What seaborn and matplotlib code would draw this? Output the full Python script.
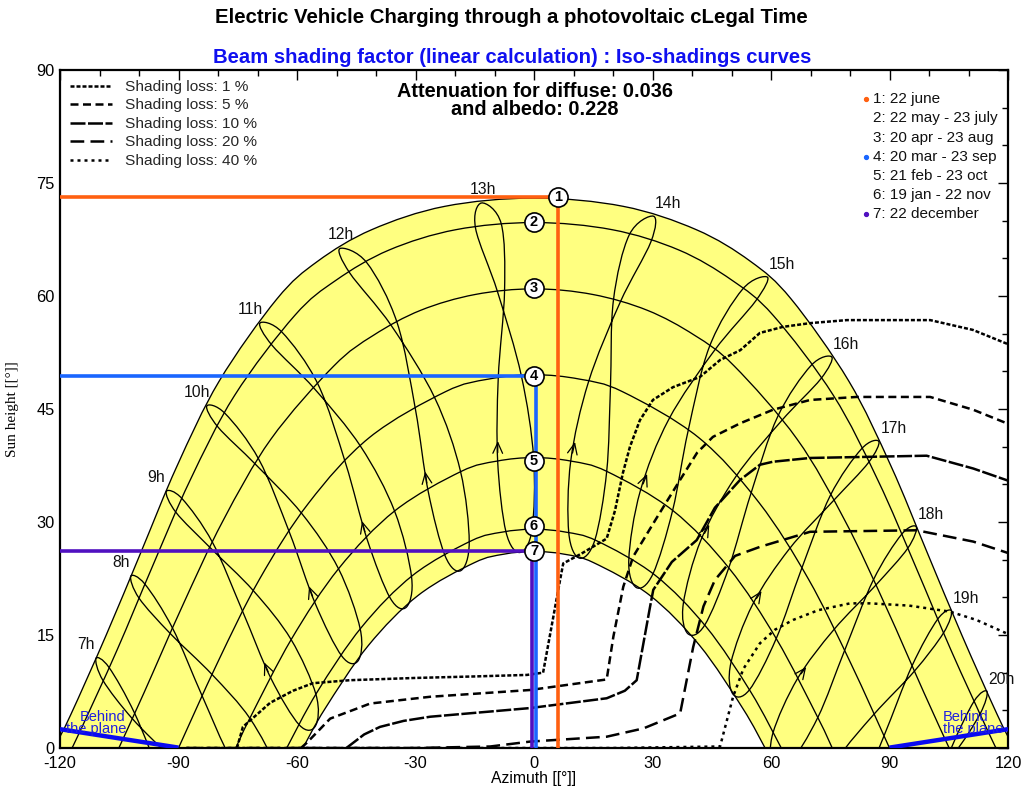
import matplotlib
matplotlib.use("Agg")
import matplotlib.pyplot as plt
from matplotlib.lines import Line2D
from matplotlib.path import Path
from matplotlib.patches import PathPatch
import numpy as np
import pandas as pd
import seaborn as sns

sns.set_theme(style="white")
plt.rcParams["font.family"] = ["Liberation Sans", "DejaVu Sans"]
plt.rcParams["axes.unicode_minus"] = False

# ---------------------------------------------------------------- data
# Sun paths of the seven reference days, from solar noon to sunset
# (azimuth [deg], sun height [deg]); the morning half is the mirror image.
path_ids = [1, 2, 3, 4, 5, 6, 7]
path_az = [
    [0, 22.6, 41.1, 54.8, 65.1, 79.7, 90.4, 99.5, 108.3, 117.3, 121.5],
    [0, 19.8, 36.7, 50.1, 60.6, 75.8, 87.1, 96.6, 105.6, 114.9, 117.0],
    [0, 14.9, 28.7, 40.6, 50.7, 66.6, 78.8, 89.1, 98.7, 105.1],
    [0, 11.5, 22.4, 41.7, 57.0, 69.5, 80.1, 90.0],
    [0, 9.4, 18.5, 35.2, 49.4, 61.4, 71.9, 75.5],
    [0, 8.0, 15.9, 30.6, 43.6, 54.9, 62.6],
    [0, 7.6, 15.1, 29.3, 41.9, 52.9, 58.5],
]
path_h = [
    [73.0, 71.9, 68.8, 64.6, 59.6, 48.7, 37.4, 26.0, 15.0, 4.4, 0.0],
    [69.75, 68.8, 66.1, 62.1, 57.4, 46.8, 35.5, 24.1, 12.95, 2.25, 0.0],
    [60.95, 60.2, 58.1, 54.8, 50.7, 41.0, 30.1, 18.75, 7.37, 0.0],
    [49.55, 48.97, 47.3, 41.2, 32.55, 22.4, 11.35, 0.0],
    [38.55, 38.08, 36.7, 31.5, 23.85, 14.46, 3.99, 0.0],
    [29.05, 28.66, 27.5, 22.96, 16.07, 7.42, 0.0],
    [26.1, 25.73, 24.6, 20.27, 13.63, 5.22, 0.0],
]

# Hour analemmas (legal time); points in the order
# Jun, Jul, Aug, Sep, Oct, Nov, Dec, Jan, Feb, Mar, Apr, May
hour_labels = [7, 8, 9, 10, 11, 12, 13, 14, 15, 16, 17, 18, 19, 20]
hour_az = [
    [-110.9, -109.1, -101.7, -91.4, -81.7, -74.4, -73.8, -78.1, -86.4, -93.9, -101.1, -107.6],
    [-102.1, -100.0, -92.1, -81.5, -71.95, -65.2, -64.9, -69.0, -76.75, -84.0, -91.5, -98.5],
    [-93.1, -90.6, -82.0, -71.0, -61.5, -55.2, -55.3, -59.4, -66.6, -73.7, -81.4, -89.1],
    [-82.85, -80.0, -70.4, -58.75, -49.5, -44.0, -44.5, -48.65, -55.4, -61.9, -69.65, -78.2],
    [-69.4, -66.3, -55.6, -43.85, -35.3, -31.0, -32.3, -36.4, -42.25, -47.7, -54.7, -63.8],
    [-49.15, -46.7, -36.1, -25.1, -18.6, -16.4, -18.5, -22.5, -26.8, -30.0, -34.65, -42.3],
    [-13.3, -14.8, -9.2, -3.2, -0.1, -0.5, -3.6, -7.1, -9.2, -9.05, -7.45, -8.3],
    [30.25, 24.1, 20.1, 19.35, 18.4, 15.4, 11.5, 8.8, 9.3, 13.8, 21.8, 29.6],
    [59.1, 52.8, 44.4, 39.0, 35.1, 30.1, 25.9, 24.0, 26.9, 34.1, 45.65, 56.2],
    [75.4, 70.1, 61.7, 54.9, 49.3, 43.2, 38.9, 37.8, 42.3, 51.0, 62.6, 72.6],
    [87.3, 82.9, 75.0, 67.75, 61.3, 54.5, 50.3, 49.85, 55.4, 64.6, 75.75, 84.7],
    [96.8, 93.05, 85.9, 78.6, 71.85, 64.6, 60.45, 60.5, 66.7, 75.9, 86.5, 94.6],
    [105.7, 102.2, 95.7, 88.6, 81.55, 73.8, 69.5, 70.0, 76.8, 86.1, 96.3, 103.7],
    [114.7, 111.4, 105.4, 98.5, 91.1, 82.8, 78.4, 79.1, 86.4, 96.0, 106.0, 112.9],
]
hour_h = [
    [11.9, 8.95, 3.9, -1.6, -7.2, -13.5, -17.6, -18.1, -12.8, -4.5, 4.6, 10.7],
    [22.8, 19.9, 15.2, 9.75, 3.95, -2.8, -6.95, -7.2, -1.45, 6.9, 15.9, 21.75],
    [34.05, 31.25, 26.6, 20.85, 14.4, 7.1, 2.95, 3.05, 9.25, 18.05, 27.3, 33.1],
    [45.4, 42.6, 37.6, 31.1, 23.8, 15.8, 11.6, 12.2, 19.2, 28.6, 38.3, 44.4],
    [56.4, 53.45, 47.7, 40.0, 31.45, 22.7, 18.7, 19.9, 27.7, 37.8, 48.3, 55.2],
    [66.3, 63.1, 56.05, 46.45, 36.7, 27.35, 23.55, 25.5, 34.1, 44.9, 56.45, 64.4],
    [72.35, 69.0, 60.5, 49.4, 38.55, 29.0, 25.95, 28.7, 38.1, 49.1, 60.75, 69.6],
    [70.6, 68.1, 59.4, 47.8, 36.7, 27.6, 25.2, 28.6, 38.1, 48.6, 59.15, 67.2],
    [62.5, 60.9, 53.25, 42.05, 31.55, 23.1, 21.3, 25.0, 34.1, 43.6, 52.75, 59.4],
    [51.9, 50.75, 44.0, 33.75, 23.9, 16.3, 15.2, 19.15, 27.65, 35.95, 43.4, 49.0],
    [40.7, 39.7, 33.5, 23.8, 14.5, 7.7, 7.2, 11.3, 19.1, 26.4, 32.8, 37.9],
    [29.35, 28.35, 22.3, 12.9, 4.05, -2.1, -2.05, 2.0, 9.2, 15.7, 21.6, 26.5],
    [18.2, 17.1, 10.9, 1.6, -7.0, -12.75, -12.5, -8.3, -1.5, 4.5, 10.2, 15.3],
    [7.5, 6.2, -0.3, -9.8, -18.4, -23.9, -23.4, -19.0, -12.8, -6.9, -1.0, 4.5],
]

# Iso-shading curves
iso_levels = ["1 %", "5 %", "10 %", "20 %", "40 %"]
iso_az = [
    [-75.2, -73.7, -66.8, -61.0, -56.0, -46.6, -30.0, -15.0, -1.8, 2.3, 6.6, 7.4, 12.0, 18.4,
     20.5, 22.5, 24.3, 26.8, 30.1, 35.2, 42.0, 47.1, 52.2, 57.2, 63.0, 69.9, 79.2, 100.3,
     111.1, 120.5],
    [-59.0, -57.5, -51.6, -44.0, -41.5, -26.3, -1.0, 18.4, 20.1, 22.6, 25.1, 31.0, 37.0,
     41.3, 45.3, 52.2, 60.5, 69.9, 81.7, 100.3, 111.2, 119.7],
    [-47.5, -43.0, -39.0, -33.0, -26.3, -1.0, 18.4, 23.0, 26.0, 29.4, 30.2, 34.9, 41.2,
     45.8, 52.2, 57.2, 60.5, 69.9, 99.4, 111.2, 120.5],
    [-88.0, -30.0, -11.1, -1.0, 18.4, 27.7, 37.0, 40.3, 42.9, 45.8, 50.9, 57.2, 69.9,
     96.9, 111.2, 120.5],
    [-88.0, 20.0, 47.1, 50.4, 53.0, 57.2, 61.0, 65.6, 72.0, 80.0, 85.1, 95.0, 105.3,
     112.0, 119.7],
]
iso_h = [
    [0.0, 2.8, 6.0, 7.6, 8.6, 9.0, 9.3, 9.5, 9.7, 10.0, 22.3, 24.5, 25.8, 27.8,
     31.5, 36.5, 40.0, 43.5, 46.2, 47.9, 49.25, 51.5, 52.8, 55.1, 55.9, 56.4, 56.8, 56.8,
     55.5, 53.5],
    [0.0, 0.7, 3.9, 5.4, 5.9, 6.8, 7.7, 9.1, 14.8, 21.4, 25.4, 30.5, 35.6,
     39.2, 41.3, 43.1, 44.9, 46.2, 46.6, 46.6, 44.9, 43.1],
    [0.0, 1.8, 2.8, 3.6, 4.15, 5.3, 6.6, 7.6, 9.0, 18.8, 21.0, 24.7, 27.6,
     31.9, 35.6, 37.6, 38.0, 38.5, 38.8, 37.1, 35.4],
    [0.0, 0.0, 0.2, 0.85, 1.5, 2.6, 4.6, 13.4, 18.8, 22.3, 25.5, 26.7, 28.7,
     28.9, 27.4, 25.8],
    [0.0, 0.0, 0.2, 6.8, 10.5, 13.9, 15.7, 17.0, 18.3, 19.2, 19.2, 18.9, 18.1,
     17.0, 15.2],
]

# Day markers (position of the numbered labels) and the highlighted days
marker_az = [6.1, 0, 0, 0, 0, 0, 0]
marker_h = [73.1, 69.8, 61.1, 49.4, 38.1, 29.5, 26.2]
day_names = ["22 june", "22 may - 23 july", "20 apr - 23 aug", "20 mar - 23 sep",
             "21 feb - 23 oct", "19 jan - 22 nov", "22 december"]
highlight_ids = [1, 4, 7]
highlight_colors = ["#FF6010", "#1A66FF", "#5010C0"]
highlight_drop_az = [6.1, 0.5, -0.6]

behind_left_az, behind_left_h = [-120, -90], [2.5, 0.05]
behind_right_az, behind_right_h = [90, 120], [0.05, 2.5]


# ---------------------------------------------------------------- helpers
def full_path(az, h):
    return [-a for a in reversed(az[1:])] + list(az), list(reversed(h[1:])) + list(h)


def smooth_segments(xs, ys, closed=False):
    """Cubic Bezier (Catmull-Rom) vertices/codes passing through the given points."""
    pts = np.column_stack([xs, ys]).astype(float)
    n = len(pts)
    verts, codes = [pts[0]], [Path.MOVETO]
    nseg = n if closed else n - 1
    for i in range(nseg):
        p1 = pts[i]
        p2 = pts[(i + 1) % n]
        if closed:
            p0 = pts[(i - 1) % n]
            p3 = pts[(i + 2) % n]
        else:
            p0 = pts[i - 1] if i > 0 else p1
            p3 = pts[i + 2] if i + 2 < n else p2
        verts += [p1 + (p2 - p0) / 6.0, p2 - (p3 - p1) / 6.0, p2]
        codes += [Path.CURVE4] * 3
    return verts, codes


def smooth_line(ax, xs, ys, closed=False, **kw):
    verts, codes = smooth_segments(xs, ys, closed)
    ax.add_patch(PathPatch(Path(verts, codes), fill=False, **kw))


# ---------------------------------------------------------------- figure
fig = plt.figure(figsize=(10.21, 7.92), dpi=100)
ax = fig.add_axes([60 / 1021, 44 / 792, 948 / 1021, 678 / 792])

full_paths = [full_path(az, h) for az, h in zip(path_az, path_h)]

# yellow band between the 22 june and 22 december paths
(a1, h1), (a7, h7) = full_paths[0], full_paths[-1]
v1, c1 = smooth_segments(a1, h1)
v7, c7 = smooth_segments(a7[::-1], h7[::-1])
band = Path(v1 + v7 + [v1[0]], c1 + [Path.LINETO] + c7[1:] + [Path.CLOSEPOLY])
ax.add_patch(PathPatch(band, facecolor="#FFFF80", edgecolor="none", zorder=1))

for fa, fh in full_paths:
    smooth_line(ax, fa, fh, edgecolor="black", lw=0.95, zorder=2)
for az, h in zip(hour_az, hour_h):
    smooth_line(ax, az, h, closed=True, edgecolor="black", lw=0.95, zorder=2)

# iso-shading curves
iso_rows = []
for lev, az, h in zip(iso_levels, iso_az, iso_h):
    for i, (a, b) in enumerate(zip(az, h)):
        iso_rows.append({"level": lev, "az": a, "h": b, "i": i})
iso_df = pd.DataFrame(iso_rows)
iso_dashes = {"1 %": (1.6, 0.8), "5 %": (3.2, 1.8), "10 %": (6.0, 1.0),
              "20 %": (5.5, 2.5), "40 %": (1.2, 1.6)}
sns.lineplot(data=iso_df, x="az", y="h", style="level", dashes=iso_dashes,
             estimator=None, sort=False, color="black", lw=1.8, legend=False,
             ax=ax, zorder=3)

# direction arrows on the spring branch (Feb -> Mar)
for lab, az, h in zip(hour_labels, hour_az, hour_h):
    if 9 <= lab <= 18:
        fa, fh, ma, mh = az[8], h[8], az[9], h[9]
        tail = (fa + 0.10 * (ma - fa), fh + 0.10 * (mh - fh))
        head = (fa + 0.24 * (ma - fa), fh + 0.24 * (mh - fh))
        ax.annotate("", xy=head, xytext=tail,
                    arrowprops=dict(arrowstyle="->,head_length=0.55,head_width=0.25",
                                    color="black", lw=0.9, shrinkA=0, shrinkB=0,
                                    mutation_scale=14), zorder=3)

# hour labels on the 22 june path
for lab, az, h in zip(hour_labels, hour_az, hour_h):
    if lab < 12:
        off = (-7, 10)
    elif lab <= 13:
        off = (1, 10)
    else:
        off = (10.5, 9)
    ax.annotate(f"{lab}h", xy=(az[0], h[0]), xytext=off, textcoords="offset points",
                ha="center", va="center", fontsize=11.3, color="#111111", zorder=6)

# highlighted days
for pid, col, drop in zip(highlight_ids, highlight_colors, highlight_drop_az):
    ma, mh = marker_az[pid - 1], marker_h[pid - 1]
    ax.plot([-120, ma], [mh, mh], color=col, lw=2.6, zorder=4, solid_capstyle="butt")
    ax.plot([drop, drop], [mh, 0], color=col, lw=2.6, zorder=4, solid_capstyle="butt")

# numbered day markers
ax.scatter(marker_az, marker_h, s=190, facecolor="white", edgecolor="black",
           linewidth=1.2, zorder=5)
for pid, a, h in zip(path_ids, marker_az, marker_h):
    ax.text(a, h, str(pid), ha="center", va="center", fontsize=10.5, fontweight="bold",
            color="black", zorder=6)

# "behind the plane" zones
ax.plot(behind_left_az, behind_left_h, color="#0A0AF0", lw=3.2, zorder=4,
        solid_capstyle="butt")
ax.plot(behind_right_az, behind_right_h, color="#0A0AF0", lw=3.2, zorder=4,
        solid_capstyle="butt")
ax.text(-103.3, 3.3, "Behind\nthe plane", ha="right", va="center", ma="right",
        color="#2020E0", fontsize=10.5, linespacing=0.8, zorder=6)
ax.text(103.5, 3.3, "Behind\nthe plane", ha="left", va="center", ma="left",
        color="#2020E0", fontsize=10.5, linespacing=0.8, zorder=6)

# axes
ax.set_xlim(-120, 120)
ax.set_ylim(0, 90)
ax.set_xticks(range(-120, 121, 30))
ax.set_xticks(range(-120, 121, 10), minor=True)
ax.set_yticks(range(0, 91, 15))
ax.set_yticks(range(0, 91, 5), minor=True)
ax.tick_params(which="both", direction="in", top=True, right=True, colors="black",
               labelsize=11.8, width=1.0)
ax.tick_params(which="major", length=7)
ax.tick_params(which="minor", length=4)
ax.tick_params(axis="x", which="major", pad=6)
ax.tick_params(axis="y", which="major", pad=4)
for sp in ax.spines.values():
    sp.set_color("black")
    sp.set_linewidth(1.6)
ax.set_xlabel("Azimuth [[°]]", fontsize=11.3, labelpad=0, color="black")
ax.set_ylabel("Sun height [[°]]", fontsize=11, labelpad=12, color="black",
              family="Liberation Serif")

# iso-shading legend
handles = [Line2D([], [], color="black", lw=1.8, dashes=iso_dashes[lev]) for lev in iso_levels]
ax.legend(handles, [f"Shading loss: {lev}" for lev in iso_levels], loc="upper left",
          bbox_to_anchor=(0.0, 1.0), frameon=False, fontsize=11.1, handlelength=2.75,
          handletextpad=0.8, borderaxespad=0.3, borderpad=0.35, labelspacing=0.29)

# day legend
for k, (pid, name) in enumerate(zip(path_ids, day_names)):
    y = 0.957 - k * 0.0283
    ax.text(0.8576, y, f"{pid}: {name}", transform=ax.transAxes, ha="left", va="center",
            fontsize=11, color="#111111")
    if pid in highlight_ids:
        col = highlight_colors[highlight_ids.index(pid)]
        ax.plot([0.8505], [y], marker="o", ms=2.8, color=col, transform=ax.transAxes,
                clip_on=False)

ax.text(0.501, 0.955, "Attenuation for diffuse: 0.036\nand albedo: 0.228",
        transform=ax.transAxes, ha="center", va="center", fontsize=14.3,
        fontweight="bold", linespacing=0.95, color="black")

fig.text(0.5005, 0.978, "Electric Vehicle Charging through a photovoltaic cLegal Time",
         ha="center", va="center", fontsize=14.7, fontweight="bold", color="black")
fig.text(0.502, 0.9268, "Beam shading factor (linear calculation) : Iso-shadings curves",
         ha="center", va="center", fontsize=14.6, fontweight="bold", color="#1010F0")

fig.savefig("out.png", dpi=100)
